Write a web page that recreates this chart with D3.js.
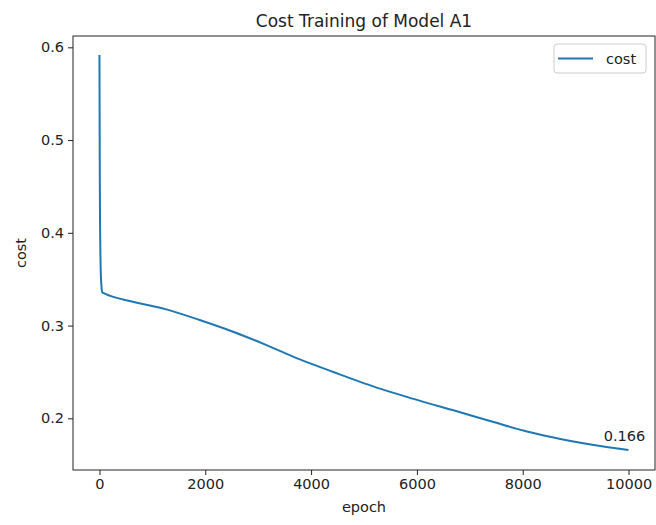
<!DOCTYPE html>
<html>
<head>
<meta charset="utf-8">
<script src="https://cdn.jsdelivr.net/npm/d3@7"></script>
<style>
  body { margin: 0; background: #fff; }
  svg text { font-family: "DejaVu Sans", sans-serif; fill: #222; }
</style>
</head>
<body>
<div id="chart"></div>
<script>
// data
var epochs = [0, 2, 5, 10, 15, 20, 30, 40, 55, 100, 631, 1263, 1894, 2525, 3157, 3788, 4419, 5303, 5934, 6818, 7449, 8081, 8712, 9343, 9999];
var costs  = [0.5917, 0.55, 0.48, 0.42, 0.39, 0.37, 0.35, 0.341, 0.3358, 0.3345, 0.3257, 0.3175, 0.3060, 0.2934, 0.2790, 0.2635, 0.2500, 0.2320, 0.2210, 0.2065, 0.1960, 0.1858, 0.1777, 0.1712, 0.1658];
var xTicks = [0, 2000, 4000, 6000, 8000, 10000];
var yTicks = [0.2, 0.3, 0.4, 0.5, 0.6];
var seriesName = 'cost';
var lastLabel = '0.166';

var w = 656, h = 525;
// plot area edges (note: "top" is reserved on window, so use m*)
var mLeft = 73, mRight = 655, mTop = 36, mBottom = 470;
var color = '#1f77b4';

var svg = d3.select('#chart')
  .append('svg')
  .attr('width', w)
  .attr('height', h);

var x = d3.scaleLinear().domain([-500, 10500]).range([mLeft, mRight]);
var y = d3.scaleLinear().domain([0.1443, 0.6122]).range([mBottom, mTop]);

// axes
var xAxis = svg.append('g')
  .attr('transform', 'translate(0,' + mBottom + ')')
  .call(d3.axisBottom(x).tickValues(xTicks).tickFormat(d3.format('d')).tickSize(5).tickPadding(4));

var yAxis = svg.append('g')
  .attr('transform', 'translate(' + mLeft + ',0)')
  .call(d3.axisLeft(y).tickValues(yTicks).tickFormat(d3.format('.1f')).tickSize(5).tickPadding(4));

[xAxis, yAxis].forEach(function(g) {
  g.select('.domain').remove();
  g.selectAll('line').attr('stroke', '#222').attr('stroke-width', 1);
  g.selectAll('text').style('font-size', '14.5px').style('font-family', '"DejaVu Sans", sans-serif').attr('fill', '#222');
});

// frame
svg.append('rect')
  .attr('x', mLeft).attr('y', mTop)
  .attr('width', mRight - mLeft).attr('height', mBottom - mTop)
  .attr('fill', 'none').attr('stroke', '#222').attr('stroke-width', 1);

// the cost line
var data = epochs.map(function(e, i) { return [e, costs[i]]; });
var line = d3.line()
  .x(function(d) { return x(d[0]); })
  .y(function(d) { return y(d[1]); })
  .curve(d3.curveMonotoneX);

svg.append('path')
  .datum(data)
  .attr('d', line)
  .attr('fill', 'none')
  .attr('stroke', color)
  .attr('stroke-width', 2);

// final value label
var last = data[data.length - 1];
svg.append('text')
  .attr('x', x(last[0]) - 4)
  .attr('y', y(last[1]) - 9)
  .attr('text-anchor', 'middle')
  .style('font-size', '14.5px')
  .text(lastLabel);

// title and axis labels
svg.append('text')
  .attr('x', (mLeft + mRight) / 2)
  .attr('y', 27)
  .attr('text-anchor', 'middle')
  .style('font-size', '17px')
  .text('Cost Training of Model A1');

svg.append('text')
  .attr('x', (mLeft + mRight) / 2)
  .attr('y', 512)
  .attr('text-anchor', 'middle')
  .style('font-size', '14.5px')
  .text('epoch');

svg.append('text')
  .attr('transform', 'translate(26,' + (mTop + mBottom) / 2 + ') rotate(-90)')
  .attr('text-anchor', 'middle')
  .style('font-size', '14.5px')
  .text('cost');

// legend
var lg = svg.append('g').attr('transform', 'translate(554,44)');
lg.append('rect')
  .attr('width', 92).attr('height', 29).attr('rx', 3)
  .attr('fill', '#fff').attr('stroke', '#ccc');
lg.append('line')
  .attr('x1', 4).attr('x2', 39).attr('y1', 14.5).attr('y2', 14.5)
  .attr('stroke', color).attr('stroke-width', 2);
lg.append('text')
  .attr('x', 52).attr('y', 20)
  .style('font-size', '14.5px')
  .text(seriesName);
</script>
</body>
</html>
